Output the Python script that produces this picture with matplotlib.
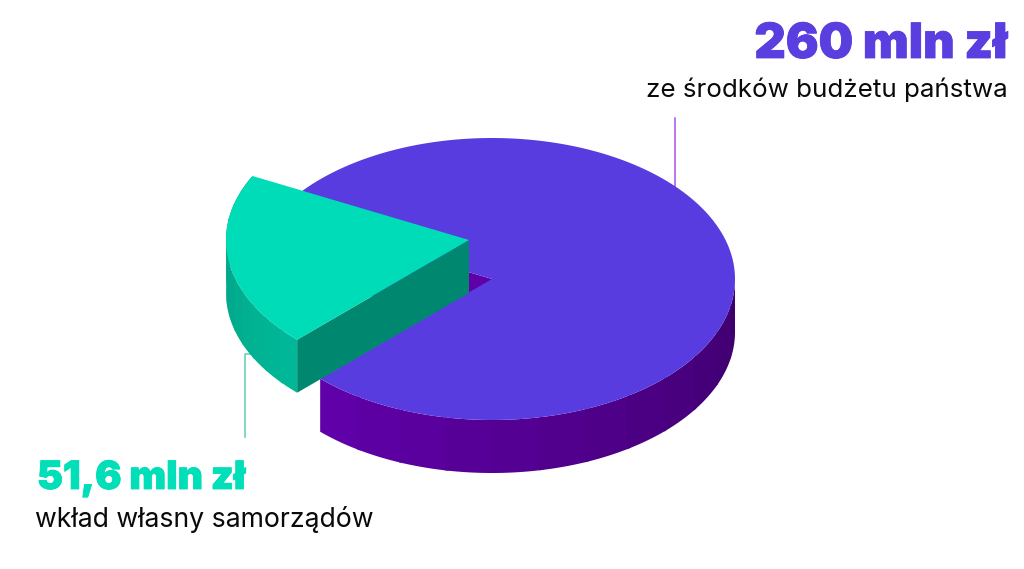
import numpy as np
import matplotlib
matplotlib.use("Agg")
import matplotlib.pyplot as plt
import matplotlib.patheffects as pe
from matplotlib.colors import to_rgb

# Data
categories = ["ze środków budżetu państwa", "wkład własny samorządów"]
amounts_mln = [260, 51.6]
amount_labels = ["260 mln zł", "51,6 mln zł"]
drawn_shares = [0.80, 0.20]   # slice sizes

# Styles
PURPLE_TOP, GREEN_TOP = "#583cdf", "#00dbb8"
PURPLE_WALL, GREEN_WALL = "#6000a8", "#00876f"
PURPLE_SIDE = ("#6000a8", "#3f006f")
GREEN_SIDE = ("#049a82", "#00b897")
CX, CY, RX, RY, DEPTH = 492, 279, 243, 141, 53
OFFSET = (-23, -39)
START = 153.0


def pt(a, cx, cy, dy=0):
    a = np.radians(a)
    return cx + RX * np.cos(a), cy - RY * np.sin(a) + dy


def top_poly(a0, a1, cx, cy, color, z):
    t = np.linspace(a0, a1, 300)
    x, y = pt(t, cx, cy)
    ax.fill(np.r_[cx, x], np.r_[cy, y], color=color, lw=0, zorder=z)


def side(a0, a1, cx, cy, cols, z, n=12):
    c0, c1 = map(np.array, map(to_rgb, cols))
    edges = np.linspace(a0, a1, n + 1)
    for i in range(n):
        # each band runs on under the next one, so no seams show
        stop = min(edges[i + 1] + 1.0, a1)
        t = np.linspace(edges[i], stop, 30)
        x, y = pt(t, cx, cy)
        x2, y2 = pt(t[::-1], cx, cy, DEPTH)
        col = c0 + (c1 - c0) * i / (n - 1)
        ax.fill(np.r_[x, x2], np.r_[y, y2], color=col, lw=0, zorder=z)


def wall(p, q, color, z):
    ax.fill([p[0], q[0], q[0], p[0]], [p[1], q[1], q[1] + DEPTH, p[1] + DEPTH],
            color=color, lw=0, zorder=z)


fig = plt.figure(figsize=(10.24, 5.69), dpi=100)
ax = fig.add_axes([0, 0, 1, 1])
ax.set_xlim(0, 1024)
ax.set_ylim(569, 0)
ax.axis("off")

span = drawn_shares[1] * 360
END = START + span
gx, gy = CX + OFFSET[0], CY + OFFSET[1]

# Leader lines
ax.plot([675, 675], [118, 190], color="#a94fe8", lw=1.1, zorder=1)
ax.plot([245, 245, 252], [437, 354, 354], color="#5fcdb3", lw=1.1, zorder=1)

# Main slice
wall((CX, CY), pt(START, CX, CY), PURPLE_WALL, 2)
side(END, 360, CX, CY, PURPLE_SIDE, 2)
top_poly(END - 360, START, CX, CY, PURPLE_TOP, 3)

# Pulled-out slice
side(START, END, gx, gy, GREEN_SIDE, 4)
wall((gx, gy), pt(END, gx, gy), GREEN_WALL, 4)
top_poly(START, END, gx, gy, GREEN_TOP, 5)

# Texts
heavy = dict(family="Inter", fontweight="black", va="baseline")
light = dict(family="Inter", fontweight="regular", va="baseline", color="#0a0a0a")
ax.text(1007, 58, amount_labels[0], ha="right", fontsize=35, color="#5a3ee0", **heavy,
        path_effects=[pe.withStroke(linewidth=0.6, foreground="#5a3ee0")])
ax.text(1008, 97, categories[0], ha="right", fontsize=18.7, **light)
ax.text(37, 489, amount_labels[1], ha="left", fontsize=28.1, color="#00dfb8", **heavy,
        path_effects=[pe.withStroke(linewidth=0.6, foreground="#00dfb8")])
ax.text(35, 527, categories[1], ha="left", fontsize=19.2, **light)

fig.savefig("out.png", dpi=100, facecolor="white")
